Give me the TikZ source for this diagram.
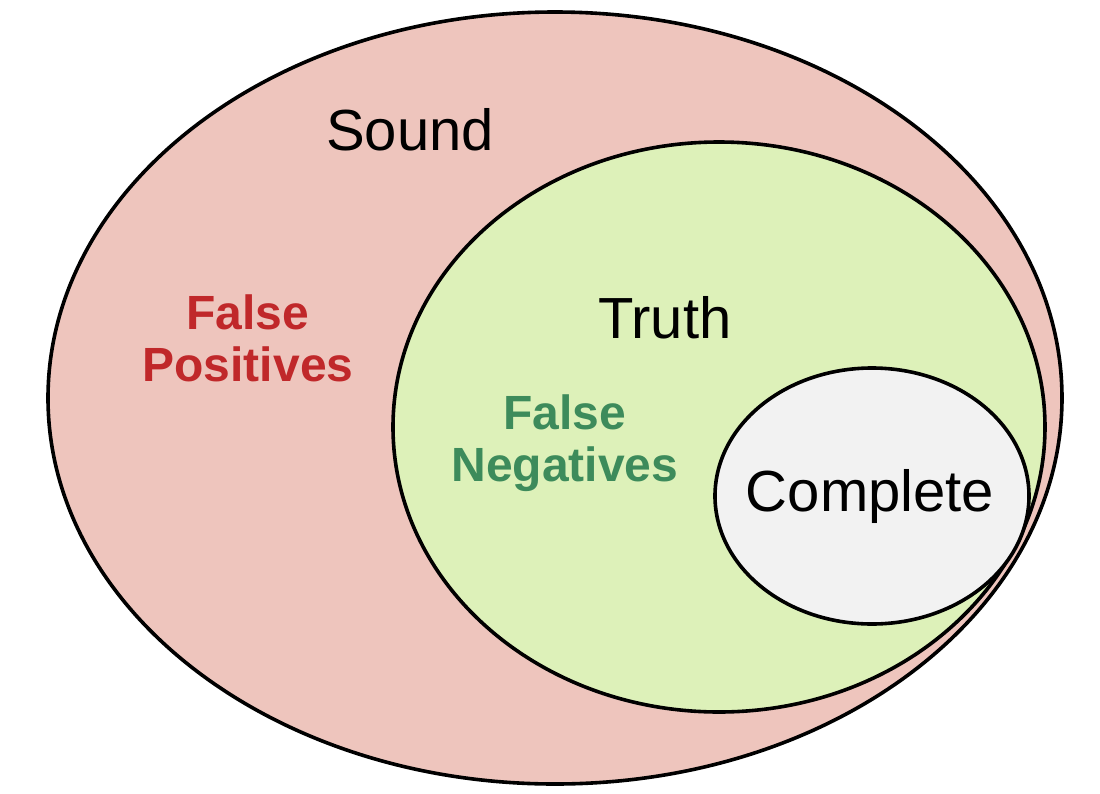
\documentclass[tikz,border=0pt]{standalone}
\usepackage{fontspec}
\setmainfont{Liberation Sans}
\definecolor{soundfill}{HTML}{EEC5BD}
\definecolor{truthfill}{HTML}{DDF1B9}
\definecolor{compfill}{HTML}{F2F2F2}
\definecolor{fpred}{HTML}{C0282A}
\definecolor{fngreen}{HTML}{3D8B5B}
\tikzset{set/.style={draw=black,line width=1.8pt},
  lbl/.style={font=\fontsize{29}{34}\selectfont},
  err/.style={font=\fontsize{24}{26}\selectfont\bfseries,align=center}}
\begin{document}
\begin{tikzpicture}[x=0.5pt,y=-0.5pt]
\useasboundingbox (0,0) rectangle (1100,794);
\fill[white] (0,0) rectangle (1100,794);
%
\draw[set,fill=soundfill] (555,398) ellipse [x radius=507,y radius=386];
\draw[set,fill=truthfill] (719,427) ellipse [x radius=326,y radius=285];
\draw[set,fill=compfill] (872,496) ellipse [x radius=157,y radius=128];
%
\draw (410,130) node[lbl]{Sound};
\draw (665,318) node[lbl]{Truth};
\draw (870,496) node[lbl]{Complete};
%
\draw (248,338) node[err,text=fpred]{False\\Positives};
\draw (565,443) node[err,text=fngreen]{False\\Negatives};
\end{tikzpicture}
\end{document}
